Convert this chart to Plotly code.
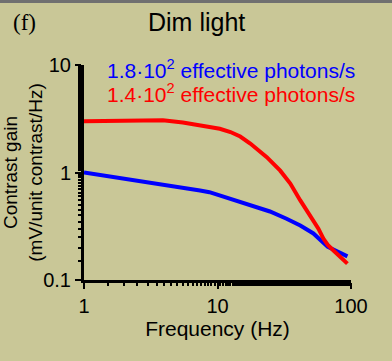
import plotly.graph_objects as go

freq_red = [1, 2, 3, 3.9, 5.5, 7.4, 8.7, 10.4, 12.5, 14.8, 17.6, 23.4, 29.5, 35.1, 41.7, 52.3, 57, 62.1, 67, 73.9, 83, 94]
gain_red = [3.0, 3.04, 3.06, 3.06, 2.92, 2.74, 2.67, 2.55, 2.38, 2.16, 1.86, 1.39, 1.04, 0.79, 0.55, 0.357, 0.3, 0.243, 0.212, 0.188, 0.163, 0.142]
freq_blue = [1, 2, 3.08, 5, 7.4, 8.7, 12.4, 17.6, 24.7, 32.9, 41.7, 52.3, 57, 62.1, 67, 73.9, 83, 94]
gain_blue = [1.0, 0.88, 0.80, 0.73, 0.68, 0.656, 0.569, 0.493, 0.434, 0.371, 0.321, 0.271, 0.245, 0.219, 0.203, 0.192, 0.178, 0.166]

label_blue = "1.8·10<sup>2</sup> effective photons/s"
label_red = "1.4·10<sup>2</sup> effective photons/s"
bg = "#c9c797"

fig = go.Figure()
fig.add_trace(go.Scatter(x=freq_blue, y=gain_blue, mode="lines",
                         line=dict(color="#0000ff", width=4), showlegend=False))
fig.add_trace(go.Scatter(x=freq_red, y=gain_red, mode="lines",
                         line=dict(color="#ff0000", width=4), showlegend=False))

sans = "Liberation Sans, Arial, sans-serif"
font = dict(family=sans, size=19, color="black")
axis_common = dict(type="log", showgrid=False, zeroline=False, showline=True, automargin=False,
                   linecolor="black", linewidth=3, ticks="outside", ticklen=6,
                   tickwidth=2, tickcolor="black", tickfont=dict(family=sans, size=20, color="black"),
                   minor=dict(ticks="outside", ticklen=3, tickwidth=2, tickcolor="black", showgrid=False))

fig.update_layout(
    width=392, height=361,
    paper_bgcolor=bg, plot_bgcolor=bg,
    margin=dict(l=84, r=41, t=65, b=81),
    font=font,
    xaxis=dict(range=[0, 2], tickvals=[1, 10, 100], ticktext=["1", "10", "100"],
               title=dict(text="Frequency (Hz)", font=dict(family=sans, size=21, color="black"), standoff=3),
               **axis_common),
    yaxis=dict(range=[-1, 1], tickvals=[0.1, 1, 10], ticktext=["0.1", "1", "10"],
               title=dict(text="Contrast gain<br>(mV/unit contrast/Hz)",
                          font=dict(family=sans, size=19, color="black"), standoff=2),
               **axis_common),
    annotations=[
        dict(text="Dim light", xref="paper", yref="paper", x=0.42, y=1.2,
             xanchor="center", yanchor="middle", showarrow=False,
             font=dict(family=sans, size=25, color="black")),
        dict(text="(f)", xref="paper", yref="paper", x=-0.275, y=1.2,
             xanchor="left", yanchor="middle", showarrow=False,
             font=dict(family="Liberation Serif, Times New Roman, serif", size=23, color="black")),
        dict(text=label_blue, xref="paper", yref="paper", x=0.077, y=0.98,
             xanchor="left", yanchor="middle", showarrow=False,
             font=dict(family=sans, size=21, color="#0000ff")),
        dict(text=label_red, xref="paper", yref="paper", x=0.077, y=0.87,
             xanchor="left", yanchor="middle", showarrow=False,
             font=dict(family=sans, size=21, color="#ff0000")),
    ],
    shapes=[dict(type="line", xref="paper", yref="paper", x0=-0.4, x1=1.2, y0=1.295, y1=1.295,
                 line=dict(color="#707070", width=3))],
)

fig.write_html("out.html", config={"displayModeBar": False},
               post_script="document.body.style.margin='0px';document.body.style.overflow='hidden';")
